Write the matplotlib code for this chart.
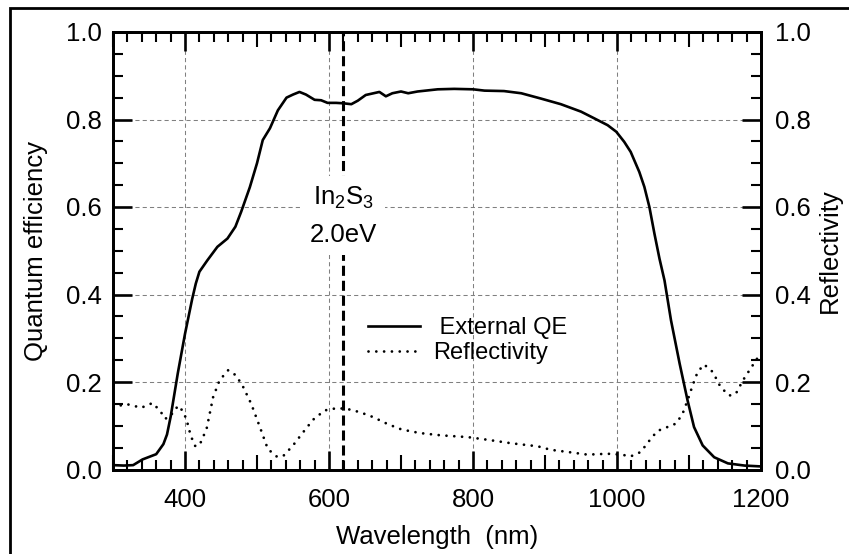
import matplotlib
matplotlib.use("Agg")
import matplotlib.pyplot as plt
from matplotlib.patches import Rectangle
from matplotlib.ticker import MultipleLocator, FormatStrFormatter
from matplotlib.lines import Line2D

plt.rcParams["font.family"] = ["Liberation Sans", "DejaVu Sans"]
plt.rcParams["mathtext.default"] = "regular"

# ---- data ----
qe_wl = [300, 315, 328, 341, 360, 370, 375, 380, 385, 390, 395, 400, 405, 410,
         415, 420, 431, 445, 459, 470, 478, 490, 500, 508, 518, 529, 541, 550,
         559, 568, 580, 589, 598, 610, 620, 631, 640, 651, 670, 679, 688, 700,
         710, 723, 751, 774, 800, 816, 843, 867, 894, 922, 950, 968, 987, 999,
         1010, 1019, 1031, 1038, 1045, 1052, 1059, 1066, 1075, 1087, 1098, 1107,
         1119, 1135, 1154, 1177, 1200]
qe = [0.010, 0.009, 0.010, 0.023, 0.035, 0.058, 0.080, 0.120, 0.170, 0.220,
      0.265, 0.310, 0.350, 0.390, 0.425, 0.452, 0.478, 0.509, 0.528, 0.555,
      0.589, 0.645, 0.700, 0.753, 0.780, 0.821, 0.850, 0.857, 0.863, 0.857,
      0.845, 0.844, 0.838, 0.838, 0.837, 0.835, 0.843, 0.856, 0.863, 0.853,
      0.860, 0.864, 0.860, 0.864, 0.869, 0.870, 0.869, 0.866, 0.865, 0.860,
      0.848, 0.835, 0.818, 0.803, 0.787, 0.772, 0.749, 0.726, 0.680, 0.646,
      0.600, 0.539, 0.482, 0.432, 0.341, 0.242, 0.158, 0.097, 0.055, 0.028,
      0.014, 0.009, 0.007]

refl_wl = [300, 305, 320, 328, 339, 355, 366, 372, 379, 385, 391, 397, 402, 408,
           414, 420, 430, 439, 448, 460, 471, 481, 492, 504, 515, 527, 536, 550,
           564, 578, 594, 610, 624, 643, 661, 680, 698, 714, 728, 756, 793, 820,
           853, 890, 908, 932, 959, 987, 1006, 1019, 1033, 1043, 1056, 1070, 1082,
           1091, 1098, 1105, 1112, 1121, 1133, 1144, 1156, 1165, 1175, 1186, 1198]
refl = [0.145, 0.145, 0.149, 0.146, 0.141, 0.152, 0.133, 0.116, 0.120, 0.135,
        0.146, 0.133, 0.115, 0.077, 0.054, 0.055, 0.093, 0.165, 0.204, 0.227,
        0.215, 0.188, 0.150, 0.097, 0.047, 0.030, 0.030, 0.055, 0.085, 0.114,
        0.135, 0.140, 0.139, 0.131, 0.120, 0.105, 0.093, 0.087, 0.083, 0.078,
        0.074, 0.068, 0.060, 0.053, 0.045, 0.040, 0.034, 0.036, 0.034, 0.030,
        0.040, 0.062, 0.088, 0.097, 0.105, 0.127, 0.158, 0.192, 0.223, 0.240,
        0.223, 0.188, 0.169, 0.173, 0.204, 0.232, 0.262]

bandgap_nm = 620          # In2S3, 2.0 eV
bandgap_label = "In$_2$S$_3$\n2.0eV"
series_labels = [" External QE", "Reflectivity"]

FS = 18.5
DOTS = (0, (0.01, 2.8))

fig = plt.figure(figsize=(8.49, 5.54), dpi=100)
ax = fig.add_axes([113 / 849, 1 - 469.5 / 554, 648 / 849, 437.5 / 554])
ax2 = ax.twinx()

# outer frame (cut by the image edge on right/bottom)
fig.patches.append(Rectangle((10 / 849, -0.5), 2.0, 1 - 8 / 554 + 0.5,
                             transform=fig.transFigure, fill=False,
                             lw=2.0, ec="black", zorder=0))

ax.plot(qe_wl, qe, color="black", lw=1.9, solid_joinstyle="round", zorder=3)
ax2.plot(refl_wl, refl, color="black", lw=2.0, linestyle=DOTS,
         dash_capstyle="round", zorder=3)
ax.axvline(bandgap_nm, color="black", lw=2.2, linestyle=(0, (3.3, 1.6)), zorder=2)

ax.text(bandgap_nm, 0.58, bandgap_label, ha="center", va="center",
        fontsize=FS, linespacing=1.6, zorder=4,
        bbox=dict(fc="white", ec="none", pad=6))

for a in (ax, ax2):
    a.set_xlim(300, 1200)
    a.set_ylim(0, 1.0)
    a.yaxis.set_major_locator(MultipleLocator(0.2))
    a.yaxis.set_minor_locator(MultipleLocator(0.05))
    a.yaxis.set_major_formatter(FormatStrFormatter("%.1f"))
    for s in a.spines.values():
        s.set_linewidth(2.0)

ax.xaxis.set_major_locator(MultipleLocator(200))
ax.xaxis.set_minor_locator(MultipleLocator(20))

ax.tick_params(axis="both", which="major", direction="in", length=14, width=1.9,
               labelsize=FS, top=True)
ax.tick_params(axis="both", which="minor", direction="in", length=7, width=1.5,
               top=True)
ax.tick_params(axis="x", which="major", pad=13)
ax.tick_params(axis="y", which="major", pad=8)
ax2.tick_params(axis="y", which="major", direction="in", length=14, width=1.9,
                labelsize=FS, pad=10)
ax2.tick_params(axis="y", which="minor", direction="in", length=7, width=1.5)

# medium ticks every 100 nm
locs = ax.xaxis.get_minorticklocs()
for loc, t in zip(locs, ax.xaxis.get_minor_ticks(len(locs))):
    if abs(loc % 100) < 1e-6 or abs(loc % 100 - 100) < 1e-6:
        t.tick1line.set_markersize(10.5)
        t.tick2line.set_markersize(10.5)

ax.grid(which="major", color="#808080", lw=0.75, linestyle=(0, (4, 3)))
ax.set_axisbelow(True)

ax.set_xlabel("Wavelength  (nm)", fontsize=FS, labelpad=10)
ax.set_ylabel("Quantum efficiency", fontsize=FS, labelpad=13)
ax2.set_ylabel("Reflectivity", fontsize=FS, labelpad=5, rotation=90)

handles = [Line2D([], [], color="black", lw=1.9),
           Line2D([], [], color="black", lw=2.0, linestyle=DOTS,
                  dash_capstyle="round")]
ax.legend(handles, series_labels, loc="upper left", bbox_to_anchor=(0.365, 0.392),
          frameon=False, fontsize=17, handlelength=2.2, handletextpad=0.55,
          labelspacing=0.15, borderpad=0.3)

fig.savefig("out.png", dpi=100)
